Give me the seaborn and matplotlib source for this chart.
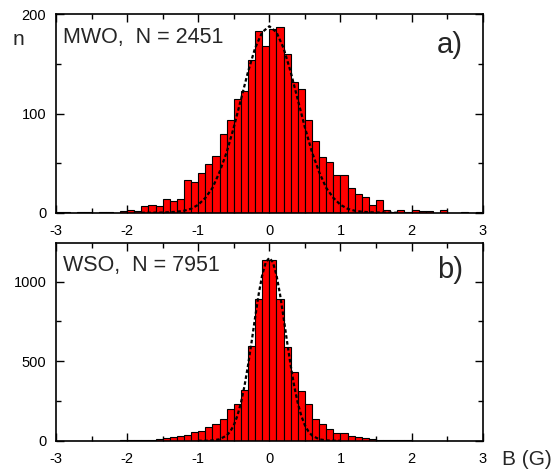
import numpy as np
import pandas as pd
import matplotlib
matplotlib.use('Agg')
import matplotlib.pyplot as plt
from matplotlib.ticker import MultipleLocator
import seaborn as sns

# bins of width 0.1 G from -3 to 3 (left edges)
bin_left = np.round(np.arange(-3.0, 3.0, 0.1), 1)

# panel a) MWO counts per bin
mwo_counts = [1, 1, 0, 1, 1, 0, 1, 1, 0, 2,
              3, 2, 7, 8, 7, 14, 12, 14, 33, 31,
              40, 49, 57, 79, 93, 115, 123, 154, 183, 168,
              185, 187, 160, 132, 125, 93, 72, 56, 51, 38,
              38, 25, 19, 16, 8, 13, 3, 1, 3, 1,
              3, 2, 2, 0, 3, 0, 0, 1, 0, 1]

# panel b) WSO counts per bin
wso_counts = [0, 0, 0, 0, 0, 0, 0, 0, 1, 2,
              2, 3, 4, 6, 8, 15, 21, 31, 33, 52,
              63, 86, 107, 134, 197, 230, 316, 594, 889, 1136,
              1136, 893, 590, 433, 310, 230, 134, 105, 71, 50,
              46, 29, 21, 15, 10, 6, 4, 3, 2, 2,
              1, 1, 0, 0, 0, 0, 0, 0, 0, 0]

# gaussian fits
mwo_fit_x = [-1.8, -1.7, -1.6, -1.5, -1.4, -1.3, -1.2, -1.1, -1.0, -0.9,
             -0.8, -0.7, -0.6, -0.5, -0.4, -0.3, -0.2, -0.1, 0.0,
             0.1, 0.2, 0.3, 0.4, 0.5, 0.6, 0.7, 0.8, 0.9,
             1.0, 1.1, 1.2, 1.3, 1.4, 1.5, 1.6, 1.7, 1.8]
mwo_fit_y = [0, 0, 0.1, 0.2, 0.5, 1, 2, 4, 8, 15,
             25, 41, 61, 86, 114, 142, 166, 182, 188,
             182, 166, 142, 114, 86, 61, 41, 25, 15,
             8, 4, 2, 1, 0.5, 0.2, 0.1, 0, 0]

wso_fit_x = [-1.0, -0.9, -0.8, -0.7, -0.6, -0.55, -0.5, -0.45, -0.4, -0.35,
             -0.3, -0.25, -0.2, -0.15, -0.1, -0.05, 0.0,
             0.05, 0.1, 0.15, 0.2, 0.25, 0.3, 0.35, 0.4, 0.45,
             0.5, 0.55, 0.6, 0.7, 0.8, 0.9, 1.0]
wso_fit_y = [0, 0, 2, 9, 33, 58, 97, 156, 237, 343,
             473, 620, 775, 921, 1042, 1122, 1150,
             1122, 1042, 921, 775, 620, 473, 343, 237, 156,
             97, 58, 33, 9, 2, 0, 0]

panels = [
    dict(counts=mwo_counts, fit_x=mwo_fit_x, fit_y=mwo_fit_y, ymax=200,
         ymajor=100, yminor=50, label='MWO,  N = 2451', tag='a)'),
    dict(counts=wso_counts, fit_x=wso_fit_x, fit_y=wso_fit_y, ymax=1245,
         ymajor=500, yminor=250, label='WSO,  N = 7951', tag='b)'),
]

sns.set_style('ticks')
plt.rcParams['font.family'] = ['Liberation Sans', 'DejaVu Sans']
plt.rcParams['axes.unicode_minus'] = False

fig = plt.figure(figsize=(5.55, 4.70), dpi=100)
rects = [[0.1009, 0.5474, 0.7688, 0.4221],
         [0.1009, 0.0623, 0.7688, 0.4213]]

edges = [round(float(e), 1) for e in np.append(bin_left, 3.0)]
for rect, p in zip(rects, panels):
    ax = fig.add_axes(rect)
    df = pd.DataFrame({'B': bin_left + 0.05, 'n': p['counts']})
    sns.histplot(data=df, x='B', weights='n', bins=edges, color='#ff0000',
                 edgecolor='black', linewidth=0.8, alpha=1, ax=ax)
    fit = pd.DataFrame({'B': p['fit_x'], 'n': p['fit_y']})
    sns.lineplot(data=fit, x='B', y='n', color='black', linewidth=1.6,
                 linestyle=(0, (1.6, 1.1)), ax=ax)
    ax.set_xlim(-3, 3)
    ax.set_ylim(0, p['ymax'])
    ax.set_xlabel('')
    ax.set_ylabel('')
    ax.xaxis.set_major_locator(MultipleLocator(1))
    ax.xaxis.set_minor_locator(MultipleLocator(0.5))
    ax.yaxis.set_major_locator(MultipleLocator(p['ymajor']))
    ax.yaxis.set_minor_locator(MultipleLocator(p['yminor']))
    ax.tick_params(which='both', direction='in', top=True, right=True,
                   width=1.0, colors='black', labelsize=10.5)
    ax.tick_params(which='major', length=6)
    ax.tick_params(which='minor', length=3.5)
    ax.tick_params(axis='x', pad=8)
    ax.tick_params(axis='y', pad=7)
    for s in ax.spines.values():
        s.set_linewidth(1.2)
        s.set_color('black')
    ax.text(0.016, 0.855 if p['tag'] == 'a)' else 0.859, p['label'],
            transform=ax.transAxes, fontsize=15.5, ha='left', va='baseline')
    ax.text(0.893, 0.805 if p['tag'] == 'a)' else 0.823, p['tag'],
            transform=ax.transAxes, fontsize=21, ha='left', va='baseline')

fig.text(0.022, 0.904, 'n', fontsize=15, ha='left', va='baseline')
fig.text(0.904, 0.0106, 'B (G)', fontsize=15, ha='left', va='baseline')

fig.savefig('out.png', dpi=100)
